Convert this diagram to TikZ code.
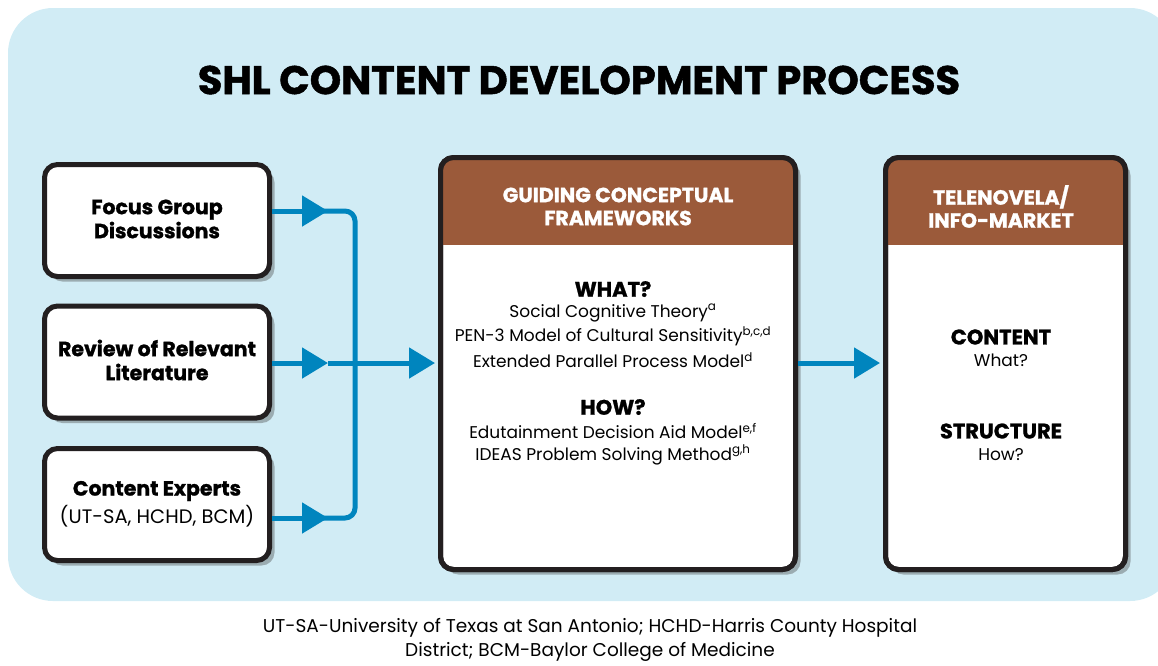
\documentclass[tikz,border=0pt]{standalone}
\usepackage{fontspec}
\setmainfont{Poppins}
\newfontfamily\heavyfont{Poppins}[BoldFeatures={FakeBold=1.2}]
\usetikzlibrary{arrows.meta,calc,shadows}

\definecolor{panel}{RGB}{209,236,245}
\definecolor{edge}{RGB}{35,31,32}
\definecolor{flowblue}{RGB}{0,133,190}
\definecolor{rust}{RGB}{155,90,58}

\begin{document}
\begin{tikzpicture}[x=1pt,y=-1pt,
  card/.style={draw=edge, line width=5pt, rounded corners=13pt, fill=white,
    drop shadow={shadow xshift=5pt, shadow yshift=-5pt, opacity=0.4, fill=black!70}},
  flow/.style={draw=flowblue, line width=5pt},
  tip/.style={-{Triangle[length=26pt,width=30pt]}},
  srclbl/.style={align=center, font=\heavyfont\bfseries\fontsize{20.5}{24}\selectfont},
  hdr/.style={align=center, text=white, font=\heavyfont\bfseries\fontsize{20.5}{23}\selectfont},
  kw/.style={font=\heavyfont\bfseries\fontsize{21}{23}\selectfont},
  body/.style={font=\fontsize{17}{20}\selectfont},
]
\useasboundingbox (0,0) rectangle (1158,665);

% panel
\fill[panel, rounded corners=45pt] (8,8) rectangle (1175,601);

% title
\node[font=\heavyfont\bfseries\fontsize{40}{44}\selectfont] (title) at (579,80) {SHL CONTENT DEVELOPMENT PROCESS};

% source boxes
\node[card, minimum width=225pt, minimum height=112pt] (fg) at (157,220.5) {};
\node[srclbl] (fgt) at (157,219) {Focus Group\\Discussions};
\node[card, minimum width=225pt, minimum height=112pt] (rl) at (157,362) {};
\node[srclbl] (rlt) at (157,360) {Review of Relevant\\Literature};
\node[card, minimum width=225pt, minimum height=112pt] (ce) at (157,504.5) {};
\node[srclbl] (cet) at (157,491) {Content Experts};
\node[font=\fontsize{19.5}{22}\selectfont] (cesub) at (157,516) {(UT-SA, HCHD, BCM)};

% framework and output cards
\node[card, minimum width=355pt, minimum height=412pt] (mid) at (618,363.5) {};
\node[card, minimum width=240pt, minimum height=412pt] (rt) at (1005.5,363.5) {};
\foreach \c in {mid,rt}{
  \begin{scope}
    \clip[rounded corners=13pt] ([xshift=2.5pt,yshift=-2.5pt]\c.north west) rectangle ([xshift=-2.5pt,yshift=2.5pt]\c.south east);
    \fill[rust] ([xshift=2.5pt,yshift=-2.5pt]\c.north west) rectangle ($(\c.north east)+(-2.5,90)$);
  \end{scope}
  \draw[edge, line width=5pt, rounded corners=13pt] ([xshift=2.5pt,yshift=-2.5pt]\c.north west) rectangle ([xshift=-2.5pt,yshift=2.5pt]\c.south east);
}

\node[hdr] (midhead) at (618,206.5) {GUIDING CONCEPTUAL\\FRAMEWORKS};
\node[kw] (what) at (613,289) {WHAT?};
\node[body] (sct) at (613,313) {Social Cognitive Theory\textsuperscript{a}};
\node[body] (pen) at (613,336) {PEN-3 Model of Cultural Sensitivity\textsuperscript{b,c,d}};
\node[body] (eppm) at (613,360) {Extended Parallel Process Model\textsuperscript{d}};
\node[kw] (how) at (613,407) {HOW?};
\node[body] (eda) at (613,431) {Edutainment Decision Aid Model\textsuperscript{e,f}};
\node[body] (ideas) at (613,455) {IDEAS Problem Solving Method\textsuperscript{g,h}};

\node[hdr] (rthead) at (1001,206.5) {TELENOVELA/\\INFO-MARKET};
\node[kw] (content) at (1001,337) {CONTENT};
\node[body] (cwhat) at (1001,360) {What?};
\node[kw] (struct) at (1001,431) {STRUCTURE};
\node[body] (chow) at (1001,455) {How?};

% connectors
\coordinate (bus1) at (355,211);
\coordinate (bus3) at (355,518);
\draw[flow, rounded corners=10pt] (320,211) -- (bus1) -- (bus3) -- (320,518);
\draw[flow, tip] ([yshift=9.5pt]fg.east) -- (328,211);
\draw[flow, tip] ([yshift=-13.5pt]ce.east) -- (328,518);
\draw[flow, tip] ([yshift=-1pt]rl.east) -- (328,363);
\draw[flow, tip, shorten >=3pt] (328,363) -- (mid.west |- 0,363);
\draw[flow, tip, shorten >=3pt] (mid.east |- 0,363) -- (rt.west |- 0,363);

% footnote
\node[align=center, font=\fontsize{18.5}{24}\selectfont] (note) at (590,640)
  {UT-SA-University of Texas at San Antonio; HCHD-Harris County Hospital\\District; BCM-Baylor College of Medicine};
\end{tikzpicture}
\end{document}
